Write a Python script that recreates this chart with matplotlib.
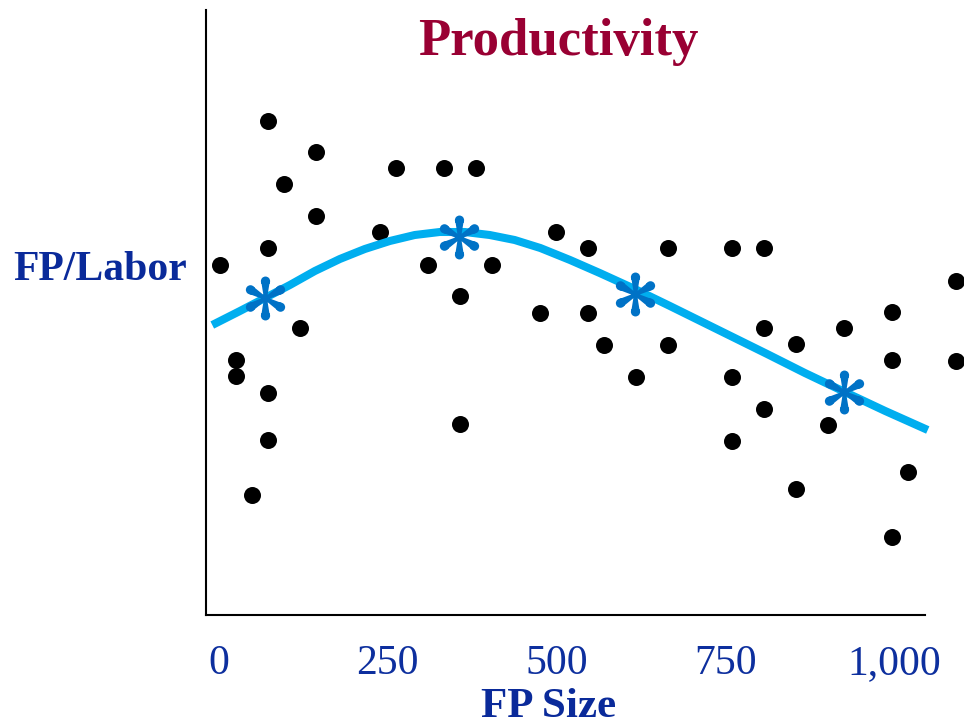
import numpy as np
import matplotlib
matplotlib.use("Agg")
import matplotlib.pyplot as plt
from matplotlib.path import Path

# ── Data (FP size vs FP/Labor, arbitrary productivity units) ──
dot_x = [2, 25, 25, 49, 73, 73, 73, 73, 96, 120, 144, 144, 239, 262, 310, 333,
         357, 357, 381, 404, 476, 499, 547, 547, 570, 618, 665, 665, 760, 760,
         760, 807, 807, 807, 855, 855, 902, 926, 997, 997, 997, 1021, 1092, 1092]
dot_y = [3.50, 2.55, 2.39, 1.20, 4.94, 3.67, 2.22, 1.75, 4.31, 2.87, 4.63, 3.99,
         3.83, 4.47, 3.50, 4.47, 3.19, 1.91, 4.47, 3.50, 3.02, 3.83, 3.67, 3.02,
         2.70, 2.38, 3.67, 2.70, 3.67, 2.38, 1.74, 3.67, 2.87, 2.06, 2.71, 1.26,
         1.90, 2.87, 3.03, 2.55, 0.78, 1.43, 3.34, 2.54]

trend_x = [-10, 31, 68, 105, 142, 179, 216, 253, 290, 327, 364, 401, 438, 476,
           520, 564, 616, 668, 713, 764, 812, 868, 924, 987, 1050]
trend_y = [2.90, 3.04, 3.17, 3.30, 3.44, 3.56, 3.66, 3.74, 3.80, 3.83, 3.83, 3.80,
           3.75, 3.67, 3.55, 3.42, 3.26, 3.09, 2.94, 2.77, 2.61, 2.42, 2.24, 2.04, 1.85]

star_x = [68, 356, 617, 926]
star_y = [3.17, 3.78, 3.21, 2.23]

tick_pos = [0, 250, 500, 750, 1000]
tick_lbl = ["0", "250", "500", "750", "1,000"]


def asterisk_path():
    # six arms with teardrop ends, like the clip-art asterisk
    parts = []
    for k in range(6):
        a = np.deg2rad(90 + 60 * k)
        d = np.array([np.cos(a), np.sin(a)])
        n = np.array([-d[1], d[0]])
        p0 = -0.07 * n
        p1 = 0.74 * d - 0.19 * n
        p2 = 0.74 * d + 0.19 * n
        p3 = 0.07 * n
        parts.append(Path([p0, p1, p2, p3, p0],
                          [Path.MOVETO, Path.LINETO, Path.LINETO, Path.LINETO, Path.CLOSEPOLY]))
        parts.append(Path.circle(tuple(0.79 * d), 0.21))
    parts.append(Path.circle((0, 0), 0.12))
    return Path.make_compound_path(*parts)


fig = plt.figure(figsize=(9.64, 7.26), dpi=100)
ax = fig.add_axes([206 / 964, 111 / 726, 758 / 964, 605 / 726])
ax.set_xlim(-19.3, 1103.7)
ax.set_ylim(0, 6.05)

ax.scatter(dot_x, dot_y, s=150, color="black", zorder=2, linewidths=0)
ax.plot(trend_x, trend_y, color="#00aeef", lw=5.8, solid_capstyle="butt",
        solid_joinstyle="round", zorder=3)
ax.scatter(star_x, star_y, marker=asterisk_path(), s=1000, color="#0072c6",
           linewidths=0, zorder=4)

for side in ["top", "right"]:
    ax.spines[side].set_visible(False)
for side in ["left", "bottom"]:
    ax.spines[side].set_linewidth(1.5)
ax.spines["bottom"].set_bounds(-19.3, 1046)

ax.set_yticks([])
ax.set_xticks(tick_pos)
ax.set_xticklabels(tick_lbl, family="Liberation Serif", fontsize=30, color="#0d2f9e")
ax.tick_params(axis="x", length=0, pad=21)

fig.text(558 / 964, 1 - 42 / 726, "Productivity", ha="center", va="center",
         family="Liberation Serif", fontweight="bold", fontsize=38, color="#990033")
fig.text(100 / 964, 1 - 270 / 726, "FP/Labor", ha="center", va="center",
         family="Liberation Serif", fontweight="bold", fontsize=30, color="#0a2a9a")
fig.text(549 / 964, 1 - 707 / 726, "FP Size", ha="center", va="center",
         family="Liberation Serif", fontweight="bold", fontsize=31, color="#0a2a9a")

fig.savefig("out.png", dpi=100)
